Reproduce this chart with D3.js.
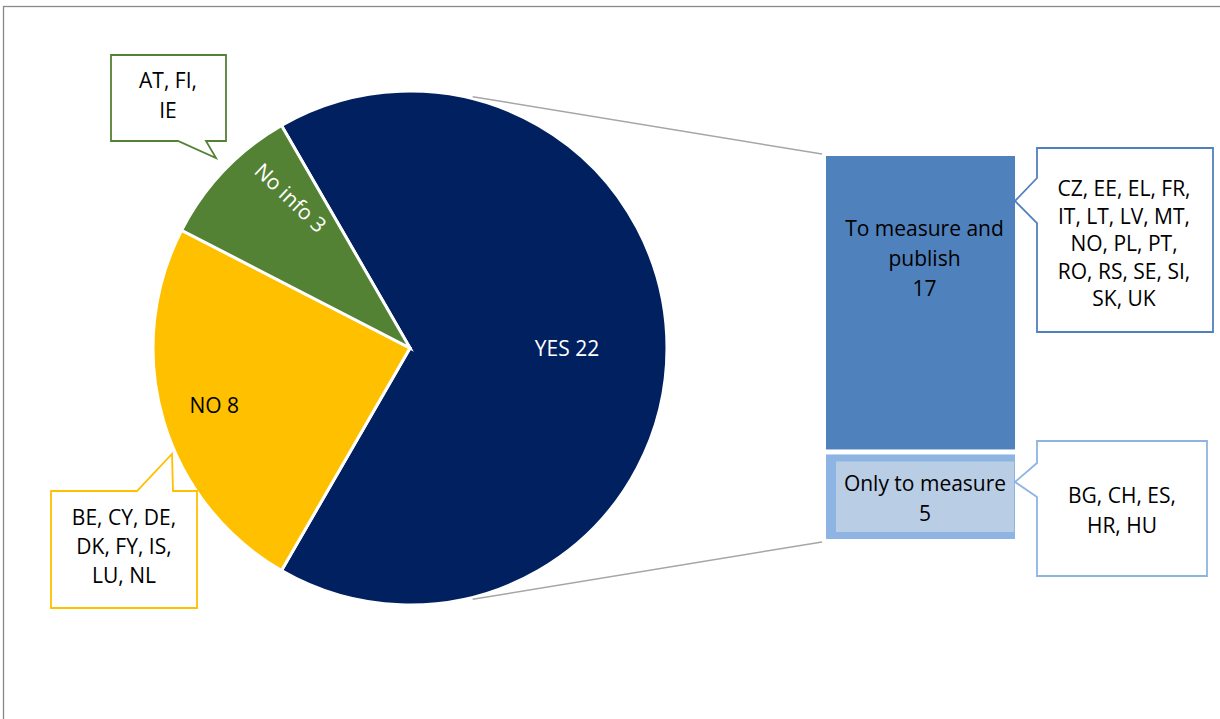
<!DOCTYPE html>
<html>
<head>
<meta charset="utf-8">
<script src="https://cdn.jsdelivr.net/npm/d3@7"></script>
<style>
  html, body { margin: 0; padding: 0; background: #fff; }
  svg { display: block; }
  text { font-family: "Open Sans", "Liberation Sans", sans-serif; font-size: 21px; }
</style>
</head>
<body>
<svg id="chart" width="1220" height="719"></svg>
<script>
// ---- data ----
const categories = ["YES", "NO", "No info"];
const values = [22, 8, 3];
const subCategories = ["To measure and", "Only to measure"];
const subCategoriesLine2 = ["publish", ""];
const subValues = [17, 5];
const noInfoCountries = ["AT, FI,", "IE"];
const noCountries = ["BE, CY, DE,", "DK, FY, IS,", "LU, NL"];
const measurePublishCountries = ["CZ, EE, EL, FR,", "IT, LT, LV, MT,", "NO, PL, PT,", "RO, RS, SE, SI,", "SK, UK"];
const measureOnlyCountries = ["BG, CH, ES,", "HR, HU"];

// ---- styles ----
const sliceColors = ["#002060", "#FFC000", "#548235"];
const labelColors = ["#ffffff", "#000000", "#ffffff"];
const barColors = ["#4F81BD", "#8EB4E3"];

const svg = d3.select("#chart");
const W = 1220, H = 719;

// frame
svg.append("rect").attr("x", 3.5).attr("y", 6.5).attr("width", W + 20).attr("height", H + 20)
  .attr("fill", "none").attr("stroke", "#898989").attr("stroke-width", 1.3);

// ---- pie ----
const cx = 410, cy = 348, R = 257;
const deg = Math.PI / 180;
const pie = d3.pie().sort(null).value(d => d.v)
  .startAngle(-30 * deg).endAngle(330 * deg);
const arcs = pie(categories.map((c, i) => ({ c, v: values[i], i })));
const arc = d3.arc().innerRadius(0).outerRadius(R);
const g = svg.append("g").attr("transform", `translate(${cx},${cy})`);

// connector lines (drawn first, behind the pie)
const barX0 = 826, barX1 = 1015;
const yBar = d3.scaleLinear().domain([0, d3.sum(subValues)]).range([156, 539]);
const conn = [
  { a: 14 * deg, x: barX0 - 4, y: yBar(0) - 2 },
  { a: 166 * deg, x: barX0 - 4, y: yBar(d3.sum(subValues)) + 3 }
];
conn.forEach(c => {
  svg.append("line")
    .attr("x1", cx + (R + 2) * Math.sin(c.a)).attr("y1", cy - (R + 2) * Math.cos(c.a))
    .attr("x2", c.x).attr("y2", c.y)
    .attr("stroke", "#A6A6A6").attr("stroke-width", 1.5);
});

g.selectAll("path.slice").data(arcs).join("path")
  .attr("class", "slice")
  .attr("d", arc)
  .attr("fill", d => sliceColors[d.data.i])
  .attr("stroke", "#fff").attr("stroke-width", 3).attr("stroke-linejoin", "miter");

// slice labels
const labelR = [157, 204, 192];
const labelShift = [0, 0, 8 * deg];
const labelRotate = [false, false, true];
arcs.forEach(d => {
  const i = d.data.i;
  const mid = (d.startAngle + d.endAngle) / 2;
  const a = mid + labelShift[i];
  const x = labelR[i] * Math.sin(a), y = -labelR[i] * Math.cos(a);
  const rot = labelRotate[i] ? (mid / deg - 270) : 0;
  g.append("text")
    .attr("transform", `translate(${x},${y}) rotate(${rot})`)
    .attr("text-anchor", "middle").attr("dominant-baseline", "central")
    .attr("fill", labelColors[i])
    .text(`${d.data.c} ${d.data.v}`);
});

// ---- secondary bar ----
let cum = 0;
const gap = 2.5;
subValues.forEach((v, i) => {
  const y0 = yBar(cum) + (i > 0 ? gap : 0);
  const y1 = yBar(cum + v) - (i < subValues.length - 1 ? gap : 0);
  cum += v;
  svg.append("rect").attr("x", barX0).attr("y", y0)
    .attr("width", barX1 - barX0).attr("height", y1 - y0)
    .attr("fill", barColors[i]);
  const mx = i === 0 ? (barX0 + barX1) / 2 + 4 : 925;
  if (i === 1) {
    svg.append("rect").attr("x", 836).attr("y", y0 + 7)
      .attr("width", barX1 - 1 - 836).attr("height", (y1 - y0) - 14)
      .attr("fill", "#B9CDE5");
  }
  const lines = [subCategories[i], subCategoriesLine2[i], String(v)].filter(s => s !== "");
  const lh = 30;
  const my = i === 0 ? 258 : (y0 + y1) / 2 + 1;
  lines.forEach((t, k) => {
    svg.append("text").attr("x", mx).attr("y", my + (k - (lines.length - 1) / 2) * lh)
      .attr("text-anchor", "middle").attr("dominant-baseline", "central")
      .attr("fill", "#000").text(t);
  });
});

// ---- callouts ----
const callouts = [
  { lines: noInfoCountries, color: "#548235", tx: 168, ty: 95, lh: 30,
    path: "M111,55 H226 V141 H206 L216,158 L178,141 H111 Z" },
  { lines: noCountries, color: "#FFC000", tx: 124, ty: 546, lh: 29,
    path: "M51,491 H137 L172,454 L173,491 H197 V608 H51 Z" },
  { lines: measurePublishCountries, color: "#4F81BD", tx: 1124, ty: 243, lh: 27.5,
    path: "M1037,148 H1213 V332 H1037 V223 L1015,201 L1037,178 Z" },
  { lines: measureOnlyCountries, color: "#8EB4E3", tx: 1122, ty: 510, lh: 30,
    path: "M1037,441 H1207 V576 H1037 V497 L1015,482 L1037,463 Z" }
];
callouts.forEach(c => {
  svg.append("path").attr("d", c.path).attr("fill", "#fff")
    .attr("stroke", c.color).attr("stroke-width", 1.8);
  c.lines.forEach((t, k) => {
    svg.append("text").attr("x", c.tx).attr("y", c.ty + (k - (c.lines.length - 1) / 2) * c.lh)
      .attr("text-anchor", "middle").attr("dominant-baseline", "central")
      .attr("fill", "#000").text(t);
  });
});
</script>
</body>
</html>
